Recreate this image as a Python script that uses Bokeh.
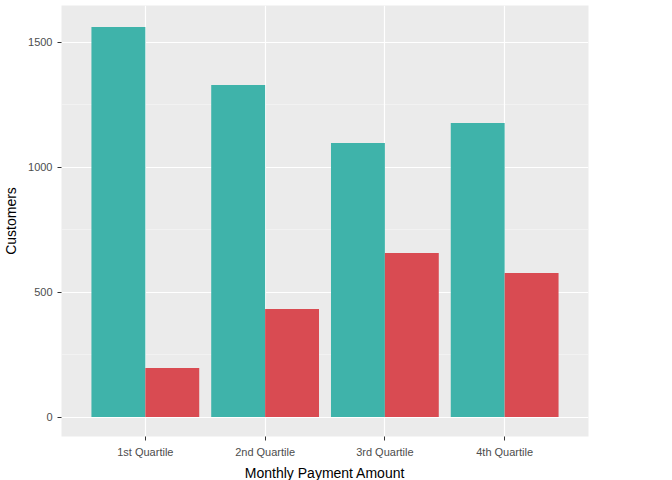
from bokeh.plotting import figure
from bokeh.models import ColumnDataSource, FixedTicker, Legend, LegendItem, Range1d
from bokeh.transform import dodge
from bokeh.embed import file_html
from bokeh.resources import INLINE

quartiles = ["1st Quartile", "2nd Quartile", "3rd Quartile", "4th Quartile"]
churn_no = [1560, 1328, 1096, 1176]
churn_yes = [196, 432, 656, 576]

src = ColumnDataSource(dict(q=quartiles, no=churn_no, yes=churn_yes))

p = figure(x_range=quartiles, y_range=Range1d(-78, 1646), frame_width=527, frame_height=431,
           output_backend="svg", toolbar_location=None,
           x_axis_label="Monthly Payment Amount", y_axis_label="Customers")
p.background_fill_color = "#EBEBEB"
p.border_fill_color = "white"
p.outline_line_color = None
p.x_range.range_padding = 0.1

r1 = p.vbar(x=dodge("q", -0.225, range=p.x_range), top="no", width=0.45, source=src,
            fill_color="#3FB3AA", line_color=None)
r2 = p.vbar(x=dodge("q", 0.225, range=p.x_range), top="yes", width=0.45, source=src,
            fill_color="#D94B52", line_color=None)

p.yaxis.ticker = FixedTicker(ticks=[0, 500, 1000, 1500], minor_ticks=[250, 750, 1250])
for g in (p.xgrid, p.ygrid):
    g.grid_line_color = "white"
    g.grid_line_width = 1.2
p.ygrid.minor_grid_line_color = "white"
p.ygrid.minor_grid_line_alpha = 0.6
p.ygrid.minor_grid_line_width = 0.6

for ax in (p.xaxis, p.yaxis):
    ax.axis_line_color = None
    ax.major_tick_line_color = "#333333"
    ax.minor_tick_line_color = None
    ax.major_tick_in = 0
    ax.major_tick_out = 4
    ax.major_label_text_color = "#4D4D4D"
    ax.major_label_text_font_size = "11px"
    ax.axis_label_text_font_size = "14px"
    ax.axis_label_text_font_style = "normal"
    ax.axis_label_text_color = "black"
    ax.major_label_text_font = "Liberation Sans"
    ax.axis_label_text_font = "Liberation Sans"
p.yaxis.major_label_orientation = "horizontal"
p.xaxis.axis_label_standoff = 4
p.yaxis.axis_label_standoff = 6

legend = Legend(items=[LegendItem(label="No", renderers=[r1]),
                       LegendItem(label="Yes", renderers=[r2])],
                title="Churn", location="center")
legend.title_text_font_size = "14px"
legend.title_text_font_style = "normal"
legend.title_text_font = "Liberation Sans"
legend.label_text_font_size = "11px"
legend.label_text_font = "Liberation Sans"
legend.border_line_color = None
legend.glyph_width = 20
legend.glyph_height = 20
legend.spacing = 2
legend.label_standoff = 6
p.add_layout(legend, "right")
p.min_border_top = 5
p.min_border_right = 0
p.min_border_left = 10

open("out.html", "w").write(file_html(p, INLINE))
